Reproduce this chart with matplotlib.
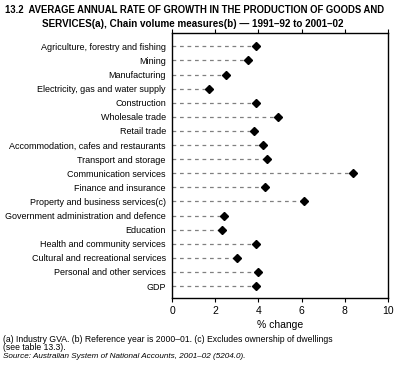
import matplotlib
matplotlib.use("Agg")
import matplotlib.pyplot as plt

categories = [
    "Agriculture, forestry and fishing",
    "Mining",
    "Manufacturing",
    "Electricity, gas and water supply",
    "Construction",
    "Wholesale trade",
    "Retail trade",
    "Accommodation, cafes and restaurants",
    "Transport and storage",
    "Communication services",
    "Finance and insurance",
    "Property and business services(c)",
    "Government administration and defence",
    "Education",
    "Health and community services",
    "Cultural and recreational services",
    "Personal and other services",
    "GDP",
]
growth = [3.9, 3.5, 2.5, 1.7, 3.9, 4.9, 3.8, 4.2, 4.4, 8.4,
          4.3, 6.1, 2.4, 2.3, 3.9, 3.0, 4.0, 3.9]
xticks = [0, 2, 4, 6, 8, 10]

plt.rcParams['font.family'] = ['Liberation Sans', 'DejaVu Sans']

W, H = 397, 378
fig = plt.figure(figsize=(W / 100, H / 100), dpi=100)
left, right, top, bottom = 172, 388, 33, 298
ax = fig.add_axes([left / W, 1 - bottom / H, (right - left) / W, (bottom - top) / H])

n = len(categories)
ys = list(range(n))
for y, v in zip(ys, growth):
    ax.plot([0, v], [y, y], color='#808080', lw=0.9, dashes=(3, 3), zorder=1)
ax.plot(growth, ys, linestyle='none', marker='D', color='black', markersize=4.2, zorder=2)

ax.set_xlim(0, 10)
ax.set_ylim(n - 1 + 0.85, -0.95)
ax.set_yticks(ys)
ax.set_yticklabels(categories, fontsize=6.5)
ax.set_xticks(xticks)
ax.set_xticklabels([str(t) for t in xticks], fontsize=7.5)
ax.tick_params(axis='y', length=0, pad=4.5)
ax.tick_params(axis='x', length=3, width=0.8, direction='out', top=True, pad=3)
for s in ax.spines.values():
    s.set_linewidth(1.0)
ax.set_xlabel('% change', fontsize=7.5, labelpad=3)

fig.text(5 / W, 1 - 10 / H, "13.2  AVERAGE ANNUAL RATE OF GROWTH IN THE PRODUCTION OF GOODS AND",
         fontsize=6.85, fontweight='bold', va='center', ha='left')
fig.text(42 / W, 1 - 24 / H, "SERVICES(a), Chain volume measures(b) \u2014 1991\u201392 to 2001\u201302",
         fontsize=7.1, fontweight='bold', va='center', ha='left')
fig.text(3 / W, 1 - 339 / H,
         "(a) Industry GVA. (b) Reference year is 2000\u201301. (c) Excludes ownership of dwellings",
         fontsize=6.2, va='center', ha='left')
fig.text(3 / W, 1 - 347 / H, "(see table 13.3).", fontsize=6.2, va='center', ha='left')
fig.text(3 / W, 1 - 357 / H,
         "Source: Australian System of National Accounts, 2001\u201302 (5204.0).",
         fontsize=5.9, va='center', ha='left', style='italic')

fig.savefig("out.png", dpi=100)
